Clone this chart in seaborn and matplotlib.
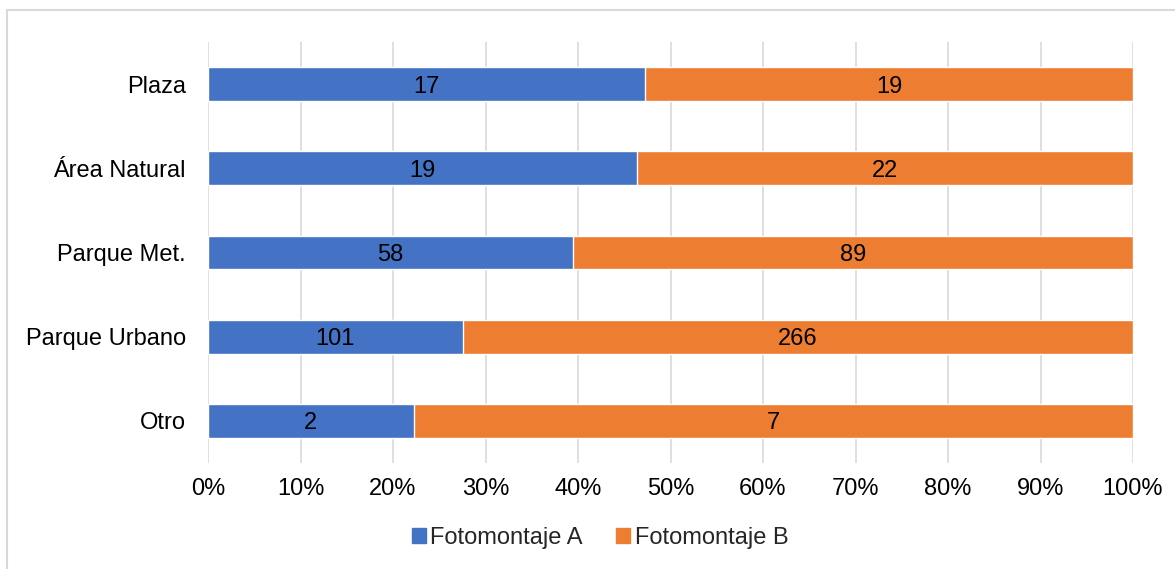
import pandas as pd
import seaborn as sns
import matplotlib.pyplot as plt
from matplotlib.patches import Rectangle, Patch
from matplotlib.ticker import PercentFormatter

# Chart data
categories = ['Plaza', 'Área Natural', 'Parque Met.', 'Parque Urbano', 'Otro']
fotomontaje_a = [17, 19, 58, 101, 2]
fotomontaje_b = [19, 22, 89, 266, 7]

df = pd.DataFrame({'categoria': categories, 'A': fotomontaje_a, 'B': fotomontaje_b})
df['total'] = df['A'] + df['B']
df['pct_a'] = df['A'] / df['total'] * 100
df['pct_full'] = 100.0

blue = '#4472C4'
orange = '#ED7D31'
fs = 17

sns.set_style('white')
plt.rcParams['font.family'] = ['Liberation Sans', 'DejaVu Sans']

fig = plt.figure(figsize=(11.75, 5.69), dpi=100)
ax = fig.add_axes([208 / 1175, 1 - 463 / 569, (1133 - 208) / 1175, (463 - 42) / 569])

# Orange bar covers the full 100%, blue share drawn over it
sns.barplot(data=df, y='categoria', x='pct_full', color=orange, width=0.4,
            orient='h', saturation=1, ax=ax, zorder=2)
sns.barplot(data=df, y='categoria', x='pct_a', color=blue, width=0.4,
            orient='h', saturation=1, ax=ax, zorder=3)

cont_b, cont_a = ax.containers[0], ax.containers[1]

# Value labels centred in each segment
for i, (ra, rb) in enumerate(zip(cont_a, cont_b)):
    y = ra.get_y() + ra.get_height() / 2
    xa = ra.get_width() / 2
    xb = ra.get_width() + (100 - ra.get_width()) / 2
    ax.text(xa, y, str(fotomontaje_a[i]), ha='center', va='center_baseline', fontsize=fs, color='black', zorder=4)
    ax.text(xb, y, str(fotomontaje_b[i]), ha='center', va='center_baseline', fontsize=fs, color='black', zorder=4)

ax.set_xlim(0, 100)
ax.set_ylim(4.5, -0.5)
ax.set_xticks(range(0, 101, 10))
ax.xaxis.set_major_formatter(PercentFormatter(decimals=0))
ax.grid(axis='x', color='#D9D9D9', linewidth=1.2, zorder=0)
ax.set_axisbelow(True)
for s in ax.spines.values():
    s.set_visible(False)
ax.tick_params(axis='both', length=0, labelsize=fs, colors='#000000')
ax.tick_params(axis='x', pad=11)
ax.tick_params(axis='y', pad=16)
ax.set_xlabel('')
ax.set_ylabel('')

handles = [Patch(color=blue), Patch(color=orange)]
fig.legend(handles, ['Fotomontaje A', 'Fotomontaje B'], loc='center',
           bbox_to_anchor=(600 / 1175, 1 - 538 / 569), ncol=2, frameon=False,
           fontsize=fs, handlelength=0.6, handleheight=0.6, handletextpad=0.2,
           columnspacing=1.4)

# Light outer border of the chart area
fig.patches.append(Rectangle((7 / 1175, -0.1), 1.2, 1.1 - 10 / 569, transform=fig.transFigure,
                             fill=False, edgecolor='#D9D9D9', linewidth=1.5))

fig.savefig('out.png', dpi=100)
